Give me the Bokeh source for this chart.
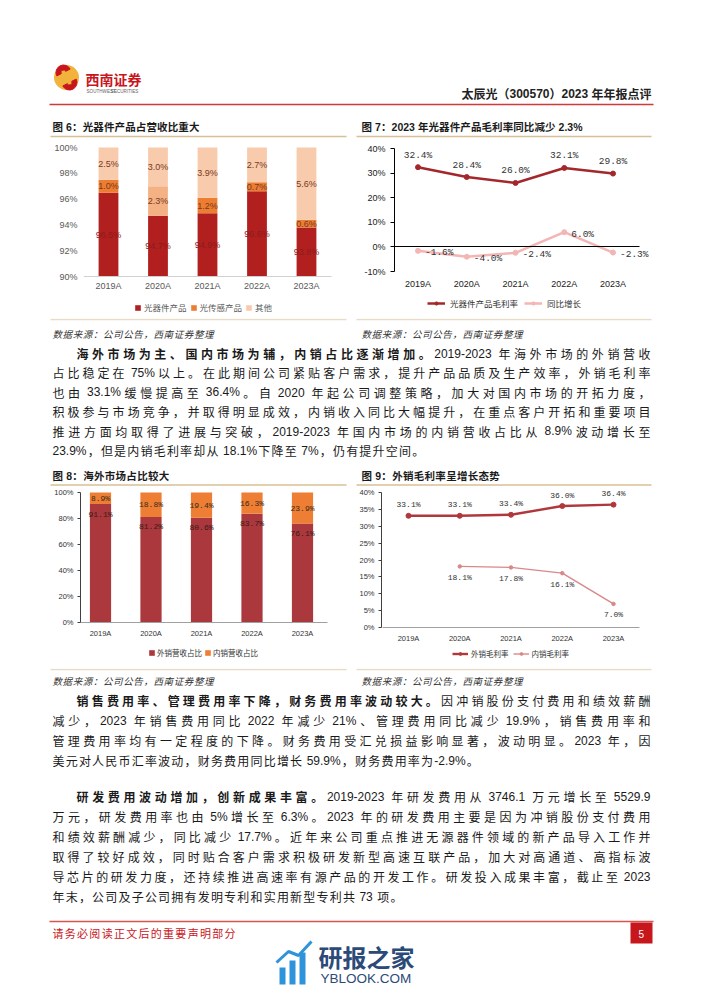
import math
from bokeh.plotting import figure
from bokeh.models import (Range1d, ColumnDataSource, Legend, LegendItem, LinearAxis,
                          FixedTicker, PrintfTickFormatter)
from bokeh.layouts import column, row
from bokeh.embed import file_html
from bokeh.resources import INLINE

# ---------------- data ----------------
years = ["2019A", "2020A", "2021A", "2022A", "2023A"]

# Fig 6: revenue mix (%)
optical_device = [96.5, 94.7, 94.9, 96.6, 93.8]
optical_sensing = [1.0, 2.3, 1.2, 0.7, 0.6]
others = [2.5, 3.0, 3.9, 2.7, 5.6]
fig6_ticks = [90, 92, 94, 96, 98, 100]

# Fig 7: optical device gross margin and YoY change (%)
device_gm = [32.4, 28.4, 26.0, 32.1, 29.8]
device_gm_yoy = [-1.6, -4.0, -2.4, 6.0, -2.3]
fig7_ticks = [-10, 0, 10, 20, 30, 40]

# Fig 8: overseas / domestic revenue share (%)
export_share = [91.1, 81.2, 80.6, 83.7, 76.1]
domestic_share = [8.9, 18.8, 19.4, 16.3, 23.9]
fig8_ticks = [0, 20, 40, 60, 80, 100]

# Fig 9: overseas / domestic gross margin (%)
export_gm = [33.1, 33.1, 33.4, 36.0, 36.4]
domestic_gm = [float("nan"), 18.1, 17.8, 16.1, 7.0]
fig9_ticks = [0, 5, 10, 15, 20, 25, 30, 35, 40]

xs = list(range(len(years)))

# ---------------- text helpers ----------------
CJK = "Noto Sans CJK SC"
LAT = "Liberation Sans"
MONO = "Liberation Mono"
ASCII_W = {".": 0.278, ",": 0.278, "%": 0.889, "-": 0.333, "(": 0.333, ")": 0.333, ":": 0.278}


def ascii_width(ch):
    if ch.isdigit():
        return 0.556
    if ch in ASCII_W:
        return ASCII_W[ch]
    if ch.isupper():
        return 0.667
    return 0.5


def tokenize(segs, fs):
    toks = []
    gap = 0.0
    for text, style in segs:
        i = 0
        while i < len(text):
            c = text[i]
            if c == " ":
                gap += 0.278 * fs
                i += 1
            elif ord(c) < 128:
                j = i
                while j < len(text) and ord(text[j]) < 128 and text[j] != " ":
                    j += 1
                w = text[i:j]
                toks.append((w, LAT, style, sum(ascii_width(ch) for ch in w) * fs, gap))
                gap = 0.0
                i = j
            else:
                toks.append((c, CJK, style, fs, gap))
                gap = 0.0
                i += 1
    return toks


class Bag:
    def __init__(self):
        self.d = {k: [] for k in ("x", "y", "text", "font", "style", "size", "color")}

    def put(self, segs, x, y, fs, color="#1a1a1a", x1=None, ls=0.0, align="left"):
        if isinstance(segs, str):
            segs = [(segs, "normal")]
        toks = tokenize(segs, fs)
        n = len(toks)
        natural = sum(t[3] for t in toks) + sum(t[4] for t in toks[1:])
        extra = (x1 - x - natural) / (n - 1) if (x1 is not None and n > 1) else ls
        total = natural + extra * (n - 1)
        cx = x - total if align == "right" else x
        for k, t in enumerate(toks):
            if k:
                cx += t[4] + extra
            self.d["x"].append(cx)
            self.d["y"].append(y)
            self.d["text"].append(t[0])
            self.d["font"].append(t[1])
            self.d["style"].append(t[2])
            self.d["size"].append(f"{fs}px")
            self.d["color"].append(color)
            cx += t[3]

    def draw(self, p):
        p.text(x="x", y="y", text="text", source=ColumnDataSource(self.d),
               text_font="font", text_font_style="style", text_font_size="size",
               text_color="color", text_baseline="middle", text_align="left")


def text_fig(top, bottom):
    p = figure(width=702, height=bottom - top, x_range=Range1d(0, 702),
               y_range=Range1d(bottom, top), x_axis_type=None, y_axis_type=None,
               output_backend="svg", toolbar_location=None, tools="", min_border=0)
    p.outline_line_color = None
    return p


def lin_range(va, pa, vb, pb, p_start, p_end):
    """Range whose start/end land on pixel p_start/p_end, given va at pa and vb at pb."""
    k = (vb - va) / (pb - pa)
    return Range1d(va + (p_start - pa) * k, va + (p_end - pa) * k)


def chart_fig(fig_left, fig_right, fig_top, fig_bottom, frame_left,
              cat0_px, cat4_px, ylo, ylo_px, yhi, yhi_px, yticks, xaxis_at):
    x_range = lin_range(0, cat0_px, len(years) - 1, cat4_px, frame_left, fig_right)
    y_range = lin_range(ylo, ylo_px, yhi, yhi_px, fig_bottom, fig_top)
    p = figure(width=fig_right - fig_left, height=fig_bottom - fig_top,
               x_range=x_range, y_range=y_range, output_backend="svg",
               toolbar_location=None, tools="", min_border_left=frame_left - fig_left,
               min_border_right=0, min_border_top=0, min_border_bottom=0)
    p.outline_line_color = None
    p.xgrid.visible = False
    p.ygrid.visible = False
    xa, ya = p.xaxis[0], p.yaxis[0]
    xa.fixed_location = xaxis_at
    xa.ticker = FixedTicker(ticks=xs)
    xa.major_label_overrides = {i: y for i, y in zip(xs, years)}
    xa.bounds = (-0.5, len(years) - 0.5)
    xa.major_tick_line_color = None
    xa.major_tick_out = 0
    xa.major_tick_in = 0
    ya.ticker = FixedTicker(ticks=yticks)
    ya.formatter = PrintfTickFormatter(format="%d%%")
    ya.bounds = (ylo, yhi)
    for ax in (xa, ya):
        ax.minor_tick_line_color = None
        ax.major_label_text_font = LAT
    return p


def add_legend(p, items, x, y, fs, color, gw, gh, standoff, spacing):
    leg = Legend(items=items, location=(x, y), orientation="horizontal")
    leg.background_fill_alpha = 0
    leg.border_line_color = None
    leg.padding = 0
    leg.margin = 0
    leg.label_text_font = CJK
    leg.label_text_font_size = fs
    leg.label_text_color = color
    leg.label_height = 10
    leg.glyph_width = gw
    leg.glyph_height = gh
    leg.label_standoff = standoff
    leg.spacing = spacing
    p.add_layout(leg)


BODY_FS = 12
BODY_COLOR = "#1a1a1a"
TITLE_FS = 10.5
NOTE = "数据来源：公司公告，西南证券整理"

# ---------------- segment 1: header ----------------
s1 = text_fig(0, 140)
s1.circle(x=[66], y=[77], radius=12.5, fill_color="#F2B33D", line_color=None)
s1.annular_wedge(x=[63], y=[72], inner_radius=2.5, outer_radius=7.5,
                 start_angle=0.15 * math.pi, end_angle=1.15 * math.pi, color="#C8161D")
s1.annular_wedge(x=[69], y=[82], inner_radius=2.5, outer_radius=7.5,
                 start_angle=1.15 * math.pi, end_angle=2.15 * math.pi, color="#C8161D")
b1 = Bag()
b1.put([("西南证券", "bold")], 85, 78, 14, color="#C8161D")
b1.put("SOUTHWEST SECURITIES", 86, 91, 4.6, color="#666666", x1=141)
b1.put([("太辰光（300570）2023 年年报点评", "bold")], 461, 93, 12, color="#222222", x1=651)
b1.put([("图 6：光器件产品占营收比重大", "bold")], 52, 126, TITLE_FS, x1=199)
b1.put([("图 7：2023 年光器件产品毛利率同比减少 2.3%", "bold")], 361, 126, TITLE_FS, x1=582)
s1.segment(x0=[49], y0=[104], x1=[653], y1=[104], line_color="#CF3B3B", line_width=1.6)
s1.segment(x0=[50, 356], y0=[136, 136], x1=[346, 651], y1=[136, 136],
           line_color="#D7BF96", line_width=1.5)
b1.draw(s1)

# ---------------- Fig 6 ----------------
ymin6 = fig6_ticks[0]
p6 = chart_fig(0, 353, 140, 318, 83, 108, 306, 90, 276, 100, 147, fig6_ticks, ymin6)
t0 = optical_device
t1 = [a + b for a, b in zip(optical_device, optical_sensing)]
t2 = [a + b + c for a, b, c in zip(optical_device, optical_sensing, others)]
src6 = ColumnDataSource(dict(
    x=xs, b0=[ymin6] * len(xs), t0=t0, t1=t1, t2=t2,
    sense_color=["#ED7D31", "#F4B183", "#ED7D31", "#ED7D31", "#ED7D31"],
    y_dev=[(ymin6 + v) / 2 for v in t0],
    y_sense=[(a + b) / 2 for a, b in zip(t0, t1)],
    y_other=[(a + b) / 2 for a, b in zip(t1, t2)],
    l_dev=[f"{v:.1f}%" for v in optical_device],
    l_sense=[f"{v:.1f}%" for v in optical_sensing],
    l_other=[f"{v:.1f}%" for v in others],
))
r_dev = p6.vbar(x="x", bottom="b0", top="t0", width=0.40, source=src6,
                fill_color="#B1201F", line_color=None)
r_sense = p6.vbar(x="x", bottom="t0", top="t1", width=0.40, source=src6,
                  fill_color="sense_color", line_color=None)
r_other = p6.vbar(x="x", bottom="t1", top="t2", width=0.40, source=src6,
                  fill_color="#F8CBAD", line_color=None)
for ycol, lcol, col in (("y_dev", "l_dev", "#8E1A1C"), ("y_sense", "l_sense", "#7A3A22"),
                        ("y_other", "l_other", "#7A3A22")):
    p6.text(x="x", y=ycol, text=lcol, source=src6, text_align="center",
            text_baseline="middle", text_font_size="9px", text_color=col,
            text_font={"value": LAT})
p6.yaxis.axis_line_color = None
p6.yaxis.major_tick_line_color = None
p6.yaxis.major_tick_out = 0
p6.yaxis.major_label_standoff = 6
p6.xaxis.axis_line_color = "#D0D0D0"
p6.xaxis.major_label_standoff = 4
for ax in (p6.xaxis[0], p6.yaxis[0]):
    ax.major_label_text_font_size = "9px"
    ax.major_label_text_color = "#595959"
add_legend(p6, [LegendItem(label="光器件产品", renderers=[r_dev]),
                LegendItem(label="光传感产品", renderers=[r_sense], index=0),
                LegendItem(label="其他", renderers=[r_other])],
           51, 5, "8.5px", "#595959", 7, 7, 3, 3)

# ---------------- Fig 7 ----------------
p7 = chart_fig(353, 702, 140, 318, 394, 417.5, 612.5, -10, 271, 40, 148, fig7_ticks, -10)
zero_axis = LinearAxis(fixed_location=0, ticker=FixedTicker(ticks=[]),
                       bounds=(-0.5, len(years) - 0.45), axis_line_color="#000000",
                       major_tick_line_color=None, minor_tick_line_color=None,
                       major_label_text_font_size="0px")
p7.add_layout(zero_axis, "below")
src7 = ColumnDataSource(dict(
    x=xs, gm=device_gm, yoy=device_gm_yoy,
    l_gm=[f"{v:.1f}%" for v in device_gm],
    l_yoy=[f"{v:.1f}%" for v in device_gm_yoy],
))
c7a, c7b = "#A3282C", "#F4B5B5"
l7a = p7.line(x="x", y="gm", source=src7, line_color=c7a, line_width=2.5)
m7a = p7.scatter(x="x", y="gm", source=src7, size=5, fill_color=c7a, line_color=c7a)
l7b = p7.line(x="x", y="yoy", source=src7, line_color=c7b, line_width=2.5)
m7b = p7.scatter(x="x", y="yoy", source=src7, size=5, fill_color=c7b, line_color=c7b)
p7.text(x="x", y="gm", text="l_gm", source=src7, y_offset=-12, text_align="center",
        text_baseline="middle", text_font_size="9.5px", text_color="#333333",
        text_font={"value": MONO})
p7.text(x="x", y="yoy", text="l_yoy", source=src7, x_offset=7, y_offset=2,
        text_align="left", text_baseline="middle", text_font_size="9.5px",
        text_color="#333333", text_font={"value": MONO})
p7.yaxis.axis_line_color = "#000000"
p7.yaxis.major_tick_line_color = "#000000"
p7.yaxis.major_tick_out = 4
p7.yaxis.major_tick_in = 0
p7.yaxis.major_label_standoff = 5
p7.xaxis[0].axis_line_color = None
p7.xaxis[0].major_label_standoff = 7
for ax in (p7.xaxis[0], p7.yaxis[0]):
    ax.major_label_text_font_size = "9px"
    ax.major_label_text_color = "#222222"
add_legend(p7, [LegendItem(label="光器件产品毛利率", renderers=[l7a, m7a]),
                LegendItem(label="同比增长", renderers=[l7b, m7b])],
           33, 9, "8.5px", "#333333", 18, 8, 5, 6)

# ---------------- segment 3: notes, paragraph 1, titles ----------------
s3 = text_fig(318, 486)
s3.segment(x0=[50, 356], y0=[319, 319], x1=[346, 651], y1=[319, 319],
           line_color="#E8DCC6", line_width=1.5)
b3 = Bag()
b3.put([(NOTE, "italic")], 52, 333, 9.5, color="#333333", ls=0.6)
b3.put([(NOTE, "italic")], 361, 333, 9.5, color="#333333", ls=0.6)
para1 = [
    [("海外市场为主、国内市场为辅，内销占比逐渐增加。", "bold"), ("2019-2023 年海外市场的外销营收", "normal")],
    [("占比稳定在 75%以上。在此期间公司紧贴客户需求，提升产品品质及生产效率，外销毛利率", "normal")],
    [("也由 33.1%缓慢提高至 36.4%。自 2020 年起公司调整策略，加大对国内市场的开拓力度，", "normal")],
    [("积极参与市场竞争，并取得明显成效，内销收入同比大幅提升，在重点客户开拓和重要项目", "normal")],
    [("推进方面均取得了进展与突破，2019-2023 年国内市场的内销营收占比从 8.9%波动增长至", "normal")],
    [("23.9%，但是内销毛利率却从 18.1%下降至 7%，仍有提升空间。", "normal")],
]


def put_para(bag, lines, y0, step):
    for i, segs in enumerate(lines):
        x0 = 76 if i == 0 else 52
        if i < len(lines) - 1:
            bag.put(segs, x0, y0 + i * step, BODY_FS, color=BODY_COLOR, x1=650)
        else:
            bag.put(segs, x0, y0 + i * step, BODY_FS, color=BODY_COLOR, ls=1.2)


put_para(b3, para1, 353, 19.4)
b3.put([("图 8：海外市场占比较大", "bold")], 52, 475, TITLE_FS, ls=0.3)
b3.put([("图 9：外销毛利率呈增长态势", "bold")], 361, 475, TITLE_FS, ls=0.3)
s3.segment(x0=[50, 356], y0=[484.5, 484.5], x1=[346, 651], y1=[484.5, 484.5],
           line_color="#D7BF96", line_width=1.5)
b3.draw(s3)

# ---------------- Fig 8 ----------------
p8 = chart_fig(0, 353, 486, 668, 80, 100, 302, 0, 622, 100, 492, fig8_ticks, 0)
src8 = ColumnDataSource(dict(
    x=xs, exp=export_share,
    top=[a + b for a, b in zip(export_share, domestic_share)],
    y_dom=[a + b / 2 for a, b in zip(export_share, domestic_share)],
    l_exp=[f"{v:.1f}%" for v in export_share],
    l_dom=[f"{v:.1f}%" for v in domestic_share],
))
r8a = p8.vbar(x="x", top="exp", bottom=0, width=0.42, source=src8,
              fill_color="#AA383C", line_color=None)
r8b = p8.vbar(x="x", bottom="exp", top="top", width=0.42, source=src8,
              fill_color="#EE7E33", line_color=None)
p8.text(x="x", y="exp", text="l_exp", source=src8, y_offset=10, text_align="center",
        text_baseline="middle", text_font_size="8px", text_color="#3A1A1A",
        text_font={"value": MONO})
p8.text(x="x", y="y_dom", text="l_dom", source=src8, text_align="center",
        text_baseline="middle", text_font_size="8px", text_color="#3A2A1A",
        text_font={"value": MONO})
p8.yaxis.axis_line_color = "#404040"
p8.yaxis.major_tick_line_color = "#404040"
p8.yaxis.major_tick_out = 3
p8.yaxis.major_tick_in = 0
p8.yaxis.major_label_standoff = 4
p8.xaxis.axis_line_color = "#A0A0A0"
p8.xaxis.major_label_standoff = 6
for ax in (p8.xaxis[0], p8.yaxis[0]):
    ax.major_label_text_font_size = "7.5px"
    ax.major_label_text_color = "#333333"
add_legend(p8, [LegendItem(label="外销营收占比", renderers=[r8a]),
                LegendItem(label="内销营收占比", renderers=[r8b])],
           68, 10, "7.5px", "#333333", 7, 7, 2, 2)

# ---------------- Fig 9 ----------------
p9 = chart_fig(353, 702, 486, 668, 381, 408, 613, 0, 627, 40, 492, fig9_ticks, 0)
src9 = ColumnDataSource(dict(
    x=xs, exp=export_gm, dom=domestic_gm,
    l_exp=[f"{v:.1f}%" for v in export_gm],
    l_dom=["" if math.isnan(v) else f"{v:.1f}%" for v in domestic_gm],
))
c9a, c9b = "#B0383C", "#D98888"
l9a = p9.line(x="x", y="exp", source=src9, line_color=c9a, line_width=2.4)
m9a = p9.scatter(x="x", y="exp", source=src9, size=5, fill_color=c9a, line_color=c9a)
l9b = p9.line(x="x", y="dom", source=src9, line_color=c9b, line_width=1.4)
m9b = p9.scatter(x="x", y="dom", source=src9, size=3.5, fill_color=c9b, line_color=c9b)
p9.text(x="x", y="exp", text="l_exp", source=src9, y_offset=-11, text_align="center",
        text_baseline="middle", text_font_size="8px", text_color="#333333",
        text_font={"value": MONO})
p9.text(x="x", y="dom", text="l_dom", source=src9, y_offset=11, text_align="center",
        text_baseline="middle", text_font_size="8px", text_color="#333333",
        text_font={"value": MONO})
p9.yaxis.axis_line_color = "#404040"
p9.yaxis.major_tick_line_color = "#404040"
p9.yaxis.major_tick_out = 3
p9.yaxis.major_tick_in = 0
p9.yaxis.major_label_standoff = 4
p9.xaxis.axis_line_color = "#A0A0A0"
p9.xaxis.major_label_standoff = 6
for ax in (p9.xaxis[0], p9.yaxis[0]):
    ax.major_label_text_font_size = "7.5px"
    ax.major_label_text_color = "#333333"
add_legend(p9, [LegendItem(label="外销毛利率", renderers=[l9a, m9a]),
                LegendItem(label="内销毛利率", renderers=[l9b, m9b])],
           71, 9, "7.5px", "#333333", 16, 7, 3, 4)

# ---------------- segment 5: notes, paragraphs 2-3, footer ----------------
s5 = text_fig(668, 991)
s5.segment(x0=[50, 356], y0=[669, 669], x1=[346, 651], y1=[669, 669],
           line_color="#E8DCC6", line_width=1.5)
b5 = Bag()
b5.put([(NOTE, "italic")], 52, 680, 9.5, color="#333333", ls=0.6)
b5.put([(NOTE, "italic")], 361, 680, 9.5, color="#333333", ls=0.6)
para2 = [
    [("销售费用率、管理费用率下降，财务费用率波动较大。", "bold"), ("因冲销股份支付费用和绩效薪酬", "normal")],
    [("减少，2023 年销售费用同比 2022 年减少 21%、管理费用同比减少 19.9%，销售费用率和", "normal")],
    [("管理费用率均有一定程度的下降。财务费用受汇兑损益影响显著，波动明显。2023 年，因", "normal")],
    [("美元对人民币汇率波动，财务费用同比增长 59.9%，财务费用率为-2.9%。", "normal")],
]
para3 = [
    [("研发费用波动增加，创新成果丰富。", "bold"), ("2019-2023 年研发费用从 3746.1 万元增长至 5529.9", "normal")],
    [("万元，研发费用率也由 5%增长至 6.3%。2023 年的研发费用主要是因为冲销股份支付费用", "normal")],
    [("和绩效薪酬减少，同比减少 17.7%。近年来公司重点推进无源器件领域的新产品导入工作并", "normal")],
    [("取得了较好成效，同时贴合客户需求积极研发新型高速互联产品，加大对高通道、高指标波", "normal")],
    [("导芯片的研发力度，还持续推进高速率有源产品的开发工作。研发投入成果丰富，截止至 2023", "normal")],
    [("年末，公司及子公司拥有发明专利和实用新型专利共 73 项。", "normal")],
]
put_para(b5, para2, 700, 20)
put_para(b5, para3, 796, 20)
# footer
s5.segment(x0=[49], y0=[921], x1=[653], y1=[921], line_color="#D9534F", line_width=1.4)
b5.put("请务必阅读正文后的重要声明部分", 52, 932, 11, color="#C8161D", x1=235)
s5.quad(left=[630], right=[652], top=[922], bottom=[943], fill_color="#C8161D", line_color=None)
b5.put("5", 638, 933, 10, color="#FFFFFF")
# watermark
s5.quad(left=[279, 289, 299], right=[285, 295, 305], top=[967, 960, 952],
        bottom=[984, 984, 984], fill_color="#2D93DA", line_color=None)
s5.line(x=[276, 288, 298, 311], y=[962, 951, 955, 941], line_color="#2D93DA", line_width=3)
b5.put([("研报之家", "bold")], 318, 956, 24, color="#2C4A78")
b5.put("YBLOOK.COM", 320, 978, 13.5, color="#2C4A78", x1=424)
b5.draw(s5)

layout = column(s1, row(p6, p7), s3, row(p8, p9), s5)
open("out.html", "w").write(file_html(layout, INLINE))
